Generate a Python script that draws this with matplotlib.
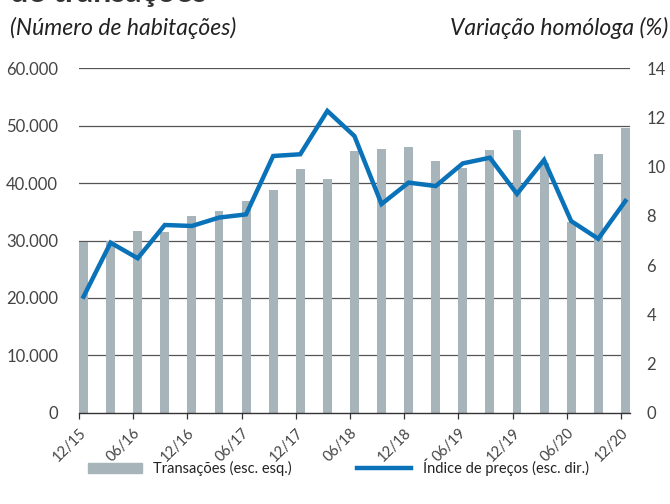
import matplotlib.pyplot as plt
import numpy as np
from matplotlib.lines import Line2D
from matplotlib.patches import Patch

plt.rcParams['font.family'] = ['Lato', 'DejaVu Sans']

quarters = ["12/15", "03/16", "06/16", "09/16", "12/16", "03/17", "06/17", "09/17",
            "12/17", "03/18", "06/18", "09/18", "12/18", "03/19", "06/19", "09/19",
            "12/19", "03/20", "06/20", "09/20", "12/20"]
transactions = [29800, 29900, 31600, 31400, 34300, 35100, 36800, 38800,
                42400, 40700, 45600, 45900, 46300, 43800, 42600, 45800,
                49200, 43500, 33300, 45100, 49600]
price_index = [4.72, 6.91, 6.28, 7.63, 7.59, 7.93, 8.06, 10.43,
               10.50, 12.26, 11.24, 8.48, 9.35, 9.21, 10.13, 10.36,
               8.89, 10.27, 7.79, 7.07, 8.60]

bar_color = "#a7b4b9"
line_color = "#0a72b8"
text_color = "#444444"
w = 0.33

x = np.arange(len(quarters))

fig = plt.figure(figsize=(6.7, 5.04), dpi=100)
ax = fig.add_axes([0.118, 0.1806, 0.822, 0.6844])

ax.set_ylim(0, 60000)
ax.set_yticks(np.arange(0, 60001, 10000))
ax.set_yticklabels([f"{v:,}".replace(",", ".") for v in range(0, 60001, 10000)])
for v in range(10000, 60001, 10000):
    ax.axhline(v, color="#555555", lw=0.9, zorder=1)
ax.bar(x, transactions, width=w, color=bar_color, zorder=2)
ax.set_xlim(-w / 2, len(quarters) - 1 + w / 2)

ax.set_xticks(x[::2] - w / 2)
ax.set_xticklabels(quarters[::2], rotation=45, ha="right", rotation_mode="anchor")
ax.tick_params(axis="x", direction="out", length=4, width=0.9, color="#333333",
               labelsize=10.5, labelcolor=text_color, pad=5)
ax.tick_params(axis="y", length=0, labelsize=12, labelcolor=text_color, pad=15)
for s in ["top", "right", "left"]:
    ax.spines[s].set_visible(False)
ax.spines["bottom"].set_color("#333333")
ax.spines["bottom"].set_linewidth(1.0)
ax.spines["bottom"].set_zorder(4)

ax2 = ax.twinx()
ax2.plot(x, price_index, color=line_color, lw=3.2, solid_joinstyle="miter", zorder=3)
ax2.set_ylim(0, 14)
ax2.set_yticks(np.arange(0, 15, 2))
ax2.tick_params(axis="y", length=0, labelsize=12, labelcolor=text_color, pad=12)
for s in ax2.spines.values():
    s.set_visible(False)

# title is cut off at the top edge in the original too
fig.text(0.015, 0.997, "de transações", fontsize=23, fontweight="bold",
         color="#333333", va="baseline")
fig.text(0.015, 0.945, "(Número de habitações)", fontsize=16.5, style="italic",
         color="#222222", va="center")
fig.text(0.997, 0.945, "Variação homóloga (%)", fontsize=16.5, style="italic",
         color="#222222", va="center", ha="right")

handles = [Patch(color=bar_color), Line2D([0], [0], color=line_color, lw=3.2)]
fig.legend(handles, ["Transações (esc. esq.)", "Índice de preços (esc. dir.)"],
           loc="center", bbox_to_anchor=(0.505, 0.072), ncol=2, frameon=False,
           fontsize=10.5, handlelength=3.7, columnspacing=4.5, handletextpad=0.8,
           labelcolor="#222222")

fig.savefig("out.png", dpi=100)
